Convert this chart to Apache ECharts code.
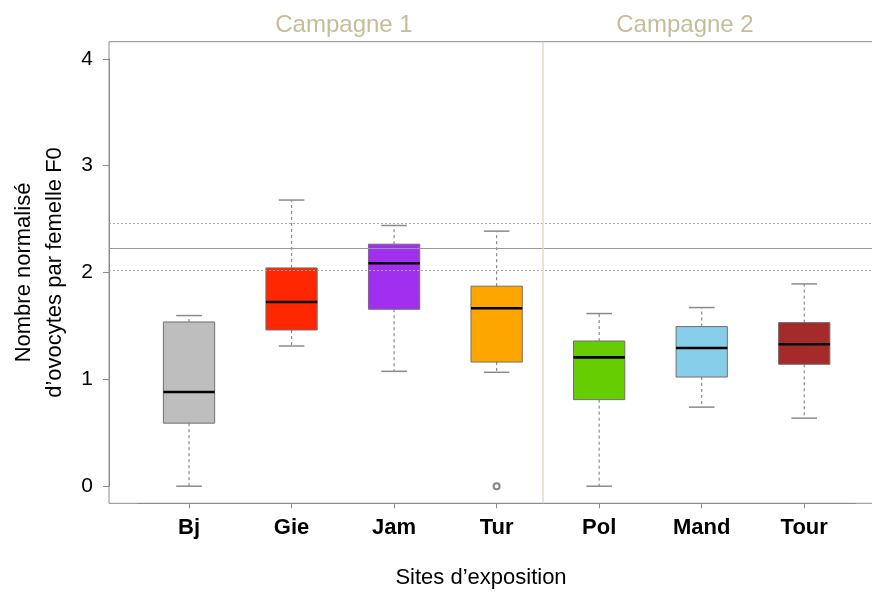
<!DOCTYPE html>
<html><head><meta charset="utf-8">
<script src="https://cdn.jsdelivr.net/npm/echarts@6/dist/echarts.min.js"></script>
<style>html,body{margin:0;padding:0;background:#fff}#c{width:872px;height:592px}</style>
</head><body><div id="c"></div>
<script>
// ---- data ----
const sites = ['Bj', 'Gie', 'Jam', 'Tur', 'Pol', 'Mand', 'Tour'];
const mins    = [0.000, 1.312, 1.075, 1.066, 0.000, 0.740, 0.637];
const q1s     = [0.590, 1.462, 1.656, 1.162, 0.810, 1.022, 1.141];
const medians = [0.881, 1.724, 2.087, 1.665, 1.206, 1.293, 1.328];
const q3s     = [1.537, 2.043, 2.265, 1.872, 1.359, 1.494, 1.531];
const maxs    = [1.597, 2.678, 2.440, 2.387, 1.616, 1.672, 1.893];
const outlierSites  = ['Tur'];
const outlierValues = [0.0];
const refMean = 2.235, refLow = 2.015, refHigh = 2.455;
const campaignSplit = 3.45;
const campaigns = ['Campagne 1', 'Campagne 2'];
const yMin = 0, yMax = 4, yStep = 1;

// ---- styles ----
const colors = ['#bebebe', '#ff2600', '#a02ff0', '#ffa500', '#66cd00', '#87ceeb', '#a52a2a'];
const FONT = 'Liberation Sans, Arial, Helvetica, sans-serif';

// frame geometry (pixels)
const frameLeft = 109, frameTop = 41.7, frameBottomPx = 503.3, frameRight = -12;
const yLo = -0.16, yHi = 4.16;
const pxPerUnit = (frameBottomPx - frameTop) / (yHi - yLo);
const g1Top = frameTop + (yHi - yMax) * pxPerUnit;
const g1BottomPx = frameBottomPx - (yMin - yLo) * pxPerUnit;
const g1Left = 137.75, g1Right = 872 - 855.5;

const boxData = sites.map((s, i) => [i, mins[i], q1s[i], medians[i], q3s[i], maxs[i]]);
const outlierData = outlierSites.map((s, i) => [s, outlierValues[i]]);

function renderBox(params, api) {
  const i = api.value(0);
  const w = api.size([1, 0])[0] * 0.5;
  const pMin = api.coord([i, api.value(1)]);
  const pQ1 = api.coord([i, api.value(2)]);
  const pMed = api.coord([i, api.value(3)]);
  const pQ3 = api.coord([i, api.value(4)]);
  const pMax = api.coord([i, api.value(5)]);
  const x = pMed[0];
  const whisk = { stroke: '#8a8a8a', lineWidth: 1.2, lineDash: [3, 3] };
  const cap = { stroke: '#8a8a8a', lineWidth: 1.5 };
  return {
    type: 'group',
    children: [
      { type: 'line', shape: { x1: x, y1: pQ3[1], x2: x, y2: pMax[1] }, style: whisk },
      { type: 'line', shape: { x1: x, y1: pQ1[1], x2: x, y2: pMin[1] }, style: whisk },
      { type: 'line', shape: { x1: x - w / 4, y1: pMax[1], x2: x + w / 4, y2: pMax[1] }, style: cap },
      { type: 'line', shape: { x1: x - w / 4, y1: pMin[1], x2: x + w / 4, y2: pMin[1] }, style: cap },
      { type: 'rect', shape: { x: x - w / 2, y: pQ3[1], width: w, height: pQ1[1] - pQ3[1] },
        style: { fill: colors[params.dataIndex], stroke: '#707070', lineWidth: 1 } },
      { type: 'line', shape: { x1: x - w / 2, y1: pMed[1], x2: x + w / 2, y2: pMed[1] },
        style: { stroke: '#000', lineWidth: 2.6 } }
    ]
  };
}

const chart = echarts.init(document.getElementById('c'), null, { renderer: 'canvas' });
chart.setOption({
  animation: false,
  backgroundColor: '#fff',
  grid: [
    { left: frameLeft, right: frameRight, top: frameTop, bottom: 592 - frameBottomPx,
      show: true, borderColor: '#8c8c8c', borderWidth: 1, backgroundColor: 'transparent',
      containLabel: false, outerBoundsMode: 'none' },
    { left: g1Left, right: g1Right, top: g1Top, bottom: 592 - g1BottomPx,
      containLabel: false, outerBoundsMode: 'none' }
  ],
  xAxis: [
    { gridIndex: 0, type: 'value', min: -0.78, max: 6.78, show: false },
    { gridIndex: 1, type: 'category', data: sites, boundaryGap: true,
      offset: frameBottomPx - g1BottomPx,
      axisLine: { show: true, onZero: false, lineStyle: { color: '#8c8c8c', width: 1 } },
      axisTick: { show: true, alignWithLabel: true, length: 5, lineStyle: { color: '#8c8c8c' } },
      axisLabel: { fontFamily: FONT, fontSize: 22, fontWeight: 'bold', color: '#000', margin: 14 },
      splitLine: { show: false } }
  ],
  yAxis: [
    { gridIndex: 0, type: 'value', min: yLo, max: yHi, show: false },
    { gridIndex: 1, type: 'value', min: yMin, max: yMax, interval: yStep,
      offset: g1Left - frameLeft,
      axisLine: { show: true, onZero: false, lineStyle: { color: '#8c8c8c', width: 1 } },
      axisTick: { show: true, length: 6, lineStyle: { color: '#8c8c8c' } },
      axisLabel: { fontFamily: FONT, fontSize: 21, color: '#000', margin: 16 },
      splitLine: { show: false },
      name: 'Nombre normalisé\nd’ovocytes par femelle F0',
      nameLocation: 'middle', nameRotate: 90, nameGap: 36,
      nameTextStyle: { fontFamily: FONT, fontSize: 22, color: '#000', lineHeight: 31 } }
  ],
  graphic: [
    { type: 'text', x: 344, y: 25, style: { text: campaigns[0], fontFamily: FONT, fontSize: 24, fill: '#c5bd98', textAlign: 'center', textVerticalAlign: 'middle' } },
    { type: 'text', x: 685, y: 25, style: { text: campaigns[1], fontFamily: FONT, fontSize: 24, fill: '#c5bd98', textAlign: 'center', textVerticalAlign: 'middle' } },
    { type: 'text', x: 481, y: 578, style: { text: 'Sites d’exposition', fontFamily: FONT, fontSize: 22, fill: '#000', textAlign: 'center', textVerticalAlign: 'middle' } }
  ],
  series: [
    { type: 'custom', xAxisIndex: 1, yAxisIndex: 1, renderItem: renderBox, data: boxData,
      encode: { x: 0, y: [1, 2, 3, 4, 5] }, z: 2, silent: true },
    { type: 'scatter', xAxisIndex: 1, yAxisIndex: 1, data: outlierData, symbol: 'emptyCircle',
      symbolSize: 6, itemStyle: { color: '#666', borderColor: '#666', borderWidth: 0.7 }, z: 3, silent: true },
    { type: 'line', xAxisIndex: 0, yAxisIndex: 0, data: [], z: 5, silent: true,
      markLine: {
        silent: true, symbol: 'none', label: { show: false }, animation: false,
        data: [
          { yAxis: refHigh, lineStyle: { type: [2, 2], color: '#a8a8a8', width: 1 } },
          { yAxis: refMean, lineStyle: { type: 'solid', color: '#999', width: 1.2 } },
          { yAxis: refLow, lineStyle: { type: [2, 2], color: '#a8a8a8', width: 1 } },
          { xAxis: campaignSplit, lineStyle: { type: 'solid', color: '#e3dcc4', width: 1.5 } }
        ]
      } }
  ]
});
</script>
</body></html>
